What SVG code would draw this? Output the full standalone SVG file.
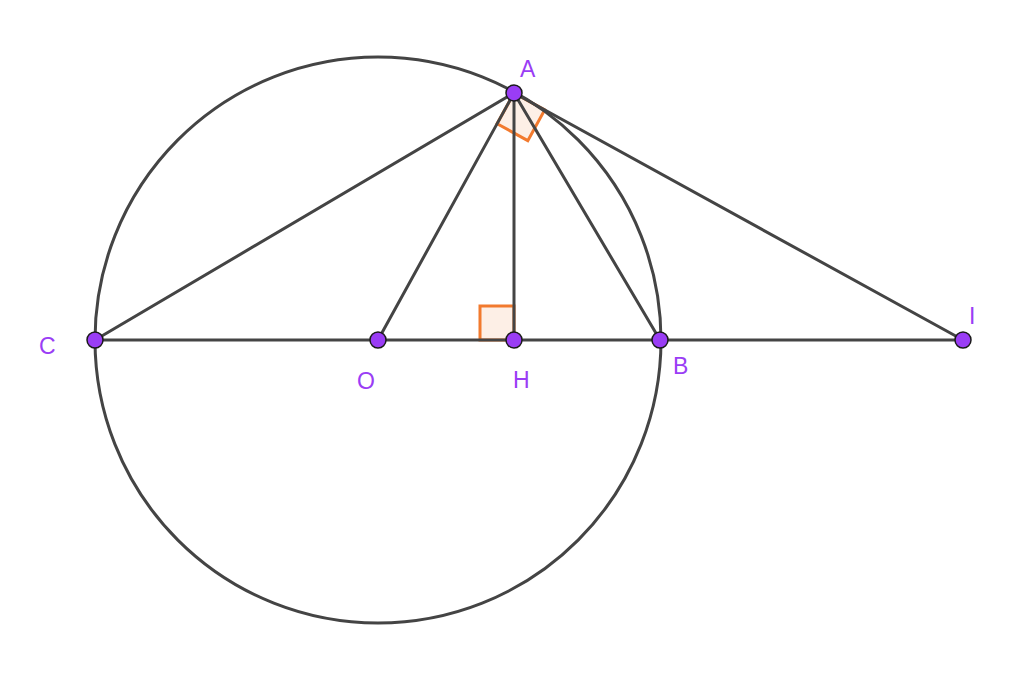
<svg xmlns="http://www.w3.org/2000/svg" width="1024" height="676" viewBox="0 0 1024 676">
<style>
.ln{stroke:#444;stroke-width:3;fill:none;stroke-linecap:round}
.ra{stroke:#f27a2e;stroke-width:3;fill:#f27a2e;fill-opacity:0.12;stroke-linejoin:miter}
.pt{fill:#9a3df5;stroke:#1a1a1a;stroke-width:1.5}
.lb{font-family:"Liberation Sans",Arial,sans-serif;font-size:23px;fill:#9a3df5}
</style>
<rect width="1024" height="676" fill="#fff"/>
<g id="markers">
<polygon class="ra" points="514,93 497.1,123.7 527.8,140.6 544.7,109.9"/>
<polygon class="ra" points="480,340 480,306 514,306 514,340"/>
</g>
<g id="connectors">
<circle class="ln" cx="378" cy="340" r="283"/>
<line class="ln" x1="95" y1="340" x2="963" y2="340"/>
<line class="ln" x1="514" y1="93" x2="95" y2="340"/>
<line class="ln" x1="514" y1="93" x2="378" y2="340"/>
<line class="ln" x1="514" y1="93" x2="514" y2="340"/>
<line class="ln" x1="514" y1="93" x2="660" y2="340"/>
<line class="ln" x1="514" y1="93" x2="963" y2="340"/>
</g>
<g id="A"><circle class="pt" cx="514" cy="93" r="8"/><text class="lb" x="520" y="77">A</text></g>
<g id="C"><circle class="pt" cx="95" cy="340" r="8"/><text class="lb" x="39" y="354">C</text></g>
<g id="O"><circle class="pt" cx="378" cy="340" r="8"/><text class="lb" x="357" y="389">O</text></g>
<g id="H"><circle class="pt" cx="514" cy="340" r="8"/><text class="lb" x="513" y="388">H</text></g>
<g id="B"><circle class="pt" cx="660" cy="340" r="8"/><text class="lb" x="673" y="374">B</text></g>
<g id="I"><circle class="pt" cx="963" cy="340" r="8"/><text class="lb" x="969" y="324">I</text></g>
</svg>
